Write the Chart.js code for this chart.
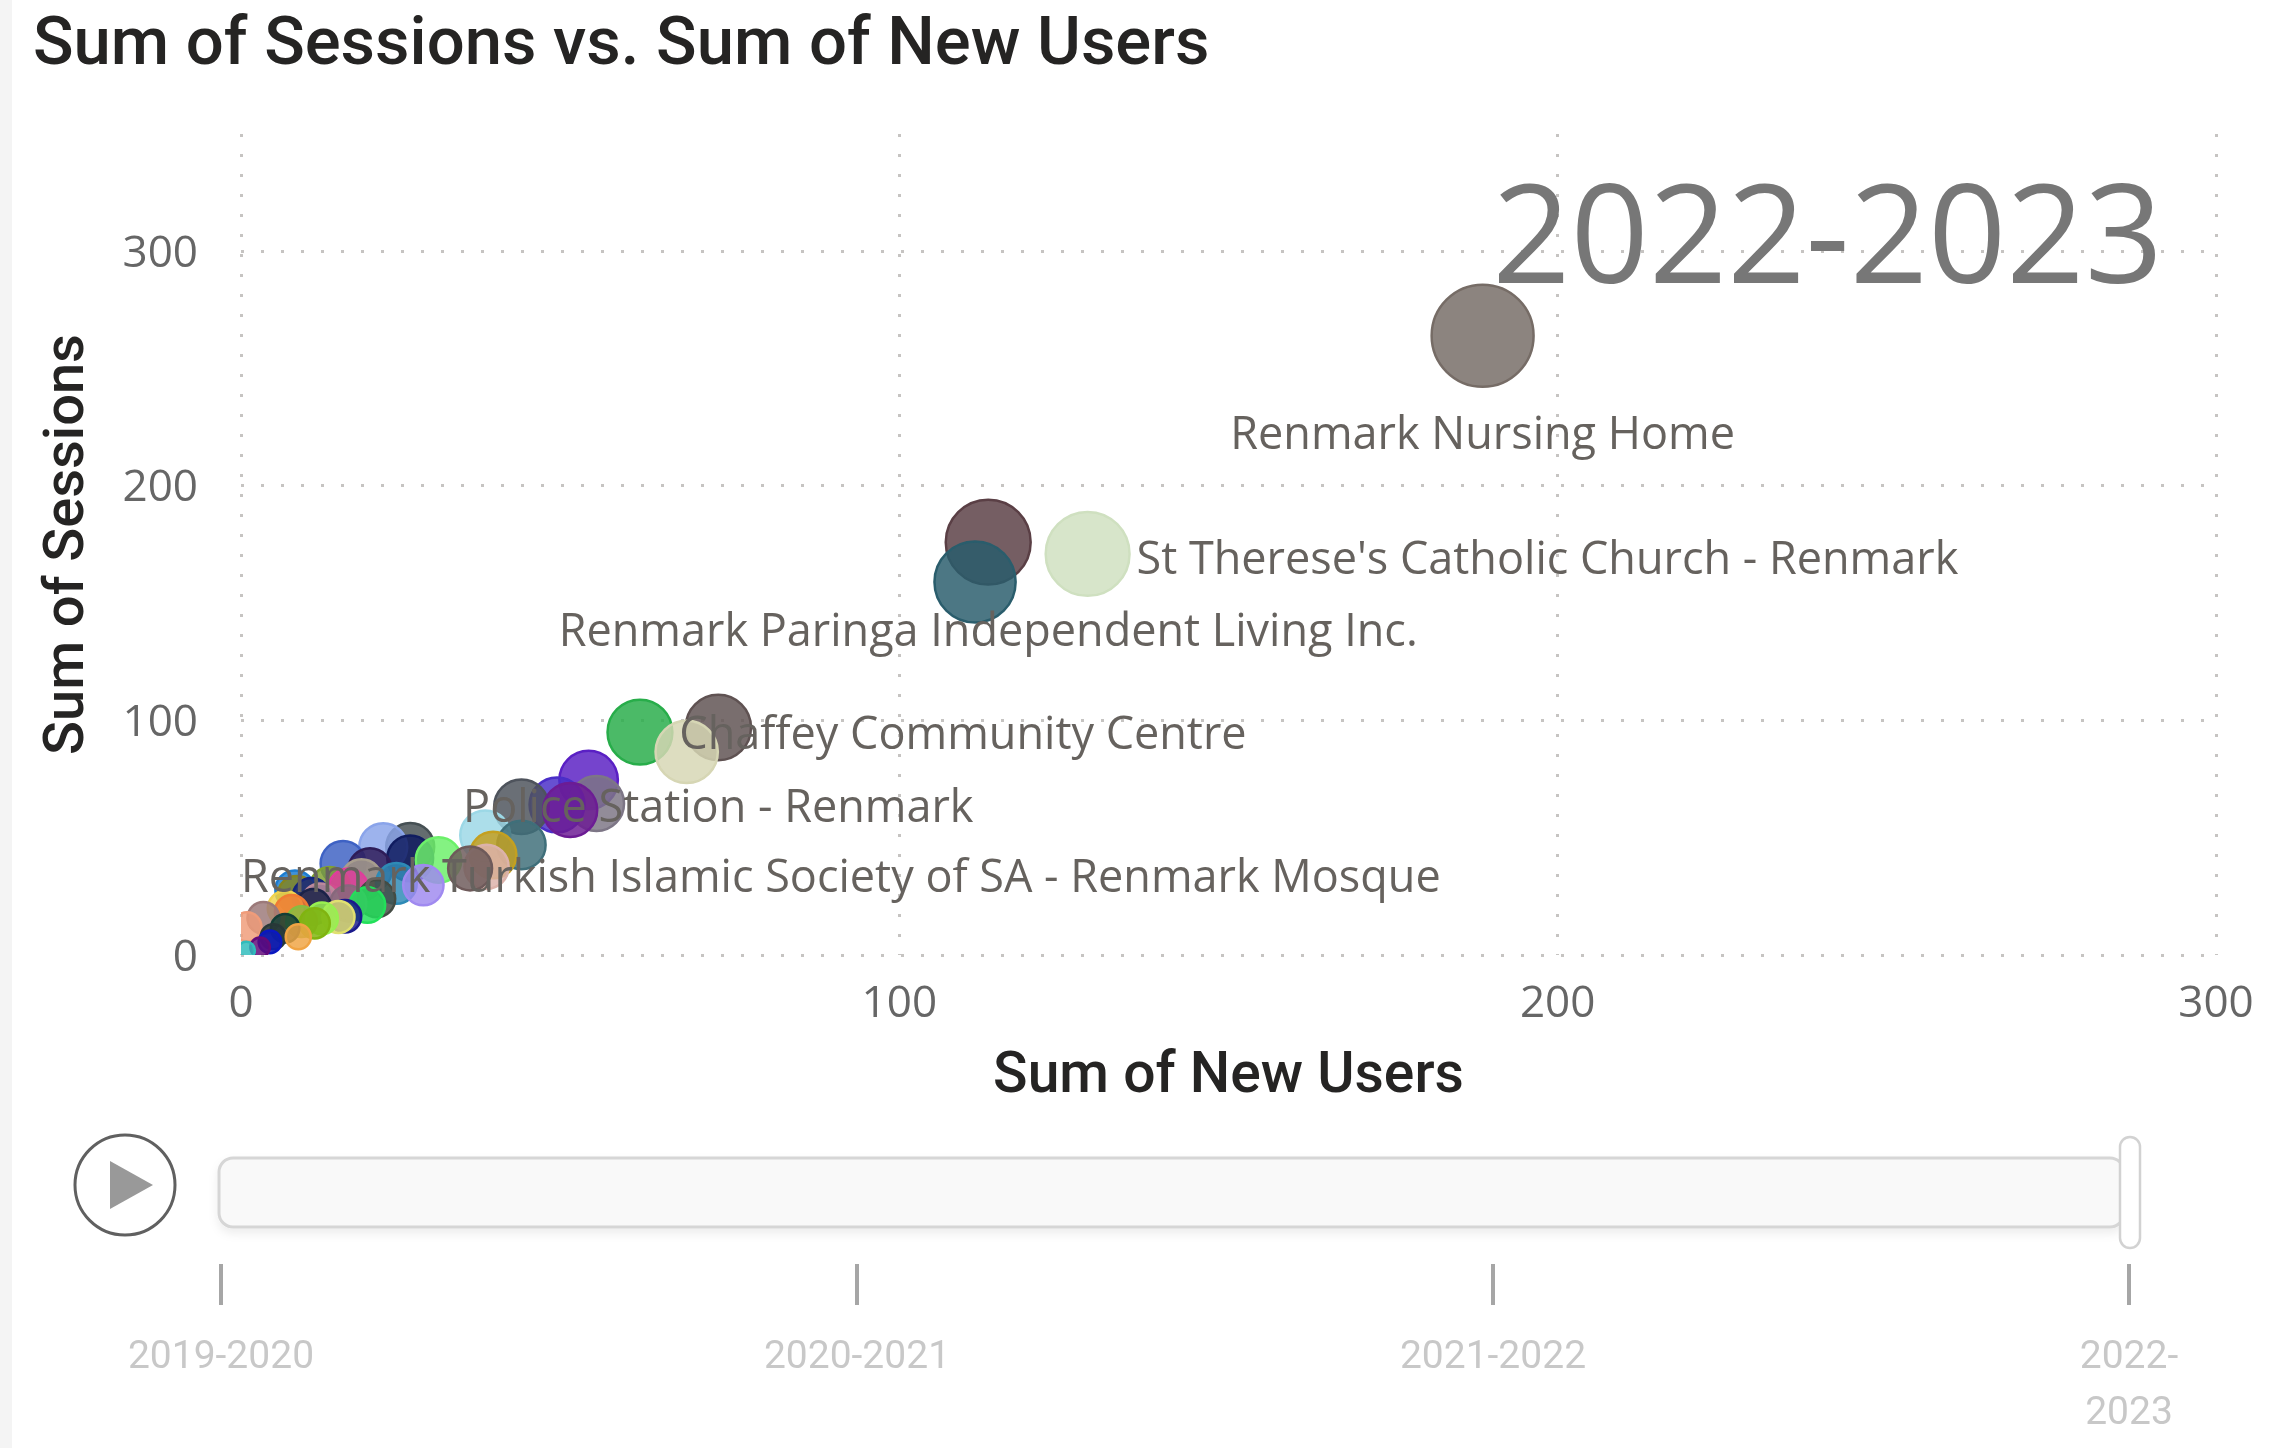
<!DOCTYPE html>
<html>
<head>
<meta charset="utf-8">
<title>Sum of Sessions vs. Sum of New Users</title>
<script src="https://cdn.jsdelivr.net/npm/chart.js@4.4.1/dist/chart.umd.min.js"></script>
<style>
  html, body { margin: 0; padding: 0; background: #fff; }
  body { width: 2279px; height: 1448px; position: relative; overflow: hidden; }
  #edge { position: absolute; left: 0; top: 0; width: 12px; height: 1448px; background: #f4f4f4; }
  #title { position: absolute; left: 33px; top: 8px; font: 500 67px/67px Roboto, sans-serif; color: #252423; white-space: nowrap; }
  #chartBox { position: absolute; left: 0; top: 0; width: 2279px; height: 1448px; }
  #slicer { position: absolute; left: 0; top: 0; }
</style>
</head>
<body>
<div id="edge"></div>
<div id="chartBox"><canvas id="bubbleChart"></canvas></div>
<div id="title">Sum of Sessions vs. Sum of New Users</div>
<svg id="slicer" width="2279" height="1448"></svg>

<script>
// ================= DATA =================
// one entry per place, largest sessions first (drawing order)
const places = [
  'Renmark Nursing Home', 'Renmark Paringa Independent Living Inc.', "St Therese's Catholic Church - Renmark", '',
  'Police Station - Renmark', 'Chaffey Community Centre', '', '', '', '',
  '', 'Renmark Turkish Islamic Society of SA - Renmark Mosque', '', '', '', '',
  '', '', '', '', '', '', '', '',
  '', '', '', '', '', '', '', '',
  '', '', '', '', '', '', '', '',
  '', '', '', '', '', '', '', '',
  '', '', ''
];
const newUsers = [
  188.6, 113.5, 128.6, 111.5,
  72.5, 60.6, 67.7, 52.8, 54, 48,
  42.6, 50, 37.1, 42.6, 25.7, 21.6,
  38.3, 25.7, 30, 15.5, 37.3, 34.8, 19.6, 18.3,
  23.6, 27.7, 13.5, 16.3, 8.2, 8.5, 10.7, 20.6,
  12, 16.3, 19.2, 11, 6.7, 7.7, 15.8, 14.8,
  3.4, 12.3, 9.2, 11.2, 0.9, 6.7, 4.9, 8.7,
  4.4, 2.9, 0.8
];
const sessions = [
  264, 176, 171, 159,
  97, 95, 86.6, 74.6, 64.6, 64,
  63.2, 61.8, 51, 46.9, 46.1, 46,
  42.6, 41.2, 40.5, 39, 37.6, 36.9, 36.2, 32,
  30.5, 29.8, 29, 28.4, 27.7, 25.6, 24.8, 24,
  22.7, 22, 21.3, 20.6, 19.9, 18.4, 16.5, 16.2,
  15.8, 15.6, 14.2, 13.5, 12, 11.4, 7.8, 7.8,
  5.6, 3.3, 2
];
const xTicks = [0, 100, 200, 300];
const yTicks = [0, 100, 200, 300];
const slicerYears = ['2019-2020', '2020-2021', '2021-2022', '2022-2023'];
const currentYear = '2022-2023';

// ================= STYLE =================
const palette = [
  '#766c66', '#5a3f45', '#cfe0c0', '#2a5d6c',
  '#5f5252', '#28ad4a', '#d6d6b4', '#5a20c4', '#7d7686', '#4a2ec8',
  '#4e535c', '#6c1c94', '#9cd8e6', '#3f6f7a', '#465054', '#8aa4ea',
  '#c4a020', '#101c60', '#6cf06a', '#3e62c4', '#dcb2aa', '#6e5a5a', '#2e1c58', '#a89e8e',
  '#2e8ab6', '#a08af0', '#80a030', '#e03c9c', '#1c7cd0', '#848420', '#14247c', '#444c44',
  '#bc8a9c', '#86687c', '#22e05a', '#1a2248', '#f0d450', '#f07c34', '#1a1a8c', '#e0e070',
  '#9c7a7a', '#98f050', '#88bc40', '#80b410', '#f09c7a', '#123e36', '#283838', '#f0a444',
  '#0a18c0', '#620a7a', '#30bcbc'
];
// where each shown name sits relative to its bubble (extra = vertical nudge)
const labelPlacement = {
  'Renmark Nursing Home': { side: 'below', extra: 0 },
  'Renmark Paringa Independent Living Inc.': { side: 'below', extra: 0 },
  "St Therese's Catholic Church - Renmark": { side: 'right', extra: 0 },
  'Police Station - Renmark': { side: 'below', extra: 0 },
  'Chaffey Community Centre': { side: 'right', extra: -3 },
  'Renmark Turkish Islamic Society of SA - Renmark Mosque': { side: 'below', extra: -7 }
};

// bubble area grows with sessions
function bubbleRadius(s) {
  return 4.6 + 2.854 * Math.sqrt(s);
}

const points = places.map((p, i) => ({ x: newUsers[i], y: sessions[i], r: bubbleRadius(sessions[i]) }));

// ================= PLUGINS =================
const yearStamp = {
  id: 'yearStamp',
  beforeDatasetsDraw(chart) {
    const { ctx, chartArea } = chart;
    ctx.save();
    ctx.font = '400 137px "Open Sans"';
    ctx.fillStyle = '#777777';
    ctx.textAlign = 'right';
    ctx.textBaseline = 'alphabetic';
    ctx.fillText(currentYear, chartArea.right - 53, 283);
    ctx.restore();
  }
};

const pointNames = {
  id: 'pointNames',
  afterDatasetsDraw(chart) {
    const { ctx, chartArea } = chart;
    const els = chart.getDatasetMeta(0).data;
    ctx.save();
    ctx.font = '400 45px "Open Sans"';
    ctx.fillStyle = '#66625e';
    ctx.textBaseline = 'middle';
    ctx.textAlign = 'left';
    places.forEach((name, i) => {
      const spot = labelPlacement[name];
      if (!spot) return;
      const el = els[i];
      const r = el.options.radius;
      const w = ctx.measureText(name).width;
      let x, y;
      if (spot.side === 'right') {
        x = el.x + r + 7;
        y = el.y + 7;
      } else {
        x = el.x - w / 2;
        y = el.y + r + 49;
      }
      y += spot.extra;
      x = Math.max(chartArea.left, Math.min(x, chartArea.right - w));
      ctx.fillText(name, x, y);
    });
    ctx.restore();
  }
};

// ================= CHART =================
new Chart(document.getElementById('bubbleChart'), {
  type: 'bubble',
  data: {
    datasets: [{
      label: 'Sum of Sessions',
      data: points,
      backgroundColor: palette.map(c => c + 'd6'),
      borderColor: palette,
      borderWidth: 2.5,
      hoverRadius: 0
    }]
  },
  options: {
    responsive: true,
    maintainAspectRatio: false,
    animation: false,
    events: [],
    layout: { padding: { left: 0, top: 134, right: 63, bottom: 333 } },
    plugins: {
      legend: { display: false },
      tooltip: { enabled: false }
    },
    scales: {
      x: {
        type: 'linear',
        min: 0,
        max: 300,
        afterBuildTicks: s => { s.ticks = xTicks.map(v => ({ value: v })); },
        afterFit: s => { s.height = 160; },
        grid: { color: '#c6c4c2', lineWidth: 3, drawTicks: false },
        border: { display: false, dash: [3, 17] },
        ticks: { color: '#666666', font: { family: '"Open Sans"', size: 44 }, padding: 23 },
        title: {
          display: true, text: 'Sum of New Users', color: '#252423',
          font: { family: 'Roboto', size: 57, weight: 500 }, padding: { top: 0, bottom: 3 }
        }
      },
      y: {
        type: 'linear',
        min: 0,
        max: 350,
        afterBuildTicks: s => { s.ticks = yTicks.map(v => ({ value: v })); },
        afterFit: s => { s.width = 241; },
        grid: { color: '#c6c4c2', lineWidth: 3, drawTicks: false },
        border: { display: false, dash: [3, 17] },
        ticks: { color: '#666666', font: { family: '"Open Sans"', size: 44 }, padding: 43, labelOffset: 3 },
        title: {
          display: true, text: 'Sum of Sessions', color: '#252423',
          font: { family: 'Roboto', size: 56, weight: 500 }, padding: { top: 35, bottom: 0 }
        }
      }
    }
  },
  plugins: [yearStamp, pointNames]
});

// ================= PLAY AXIS =================
const svg = document.getElementById('slicer');
let markup = `
  <defs>
    <filter id="sh" x="-5%" y="-50%" width="110%" height="200%">
      <feDropShadow dx="0" dy="5" stdDeviation="5" flood-color="#000" flood-opacity="0.07"/>
    </filter>
  </defs>
  <circle cx="125" cy="1185" r="50" fill="#fff" stroke="#606060" stroke-width="3"/>
  <polygon points="110,1161 153,1185 110,1209" fill="#999"/>
  <rect x="219" y="1158" width="1905" height="69" rx="14" fill="#f9f9f9" stroke="#d6d6d6" stroke-width="3" filter="url(#sh)"/>
  <rect x="2120" y="1137" width="20" height="111" rx="10" fill="#fff" stroke="#d2d2d2" stroke-width="2.5"/>`;
const tickX0 = 221, tickX1 = 2129;
slicerYears.forEach((yr, i) => {
  const x = tickX0 + i * (tickX1 - tickX0) / (slicerYears.length - 1);
  markup += `<line x1="${x}" y1="1264" x2="${x}" y2="1305" stroke="#a6a6a6" stroke-width="4"/>`;
  if (i === slicerYears.length - 1) {
    const parts = yr.split('-');
    markup += `<text x="${x}" text-anchor="middle" font-family="Roboto" font-size="39" fill="#c8c8c8">
      <tspan x="${x}" y="1368">${parts[0]}-</tspan><tspan x="${x}" y="1424">${parts[1]}</tspan></text>`;
  } else {
    markup += `<text x="${x}" y="1368" text-anchor="middle" font-family="Roboto" font-size="39" fill="#c8c8c8">${yr}</text>`;
  }
});
svg.innerHTML = markup;
</script>
</body>
</html>
